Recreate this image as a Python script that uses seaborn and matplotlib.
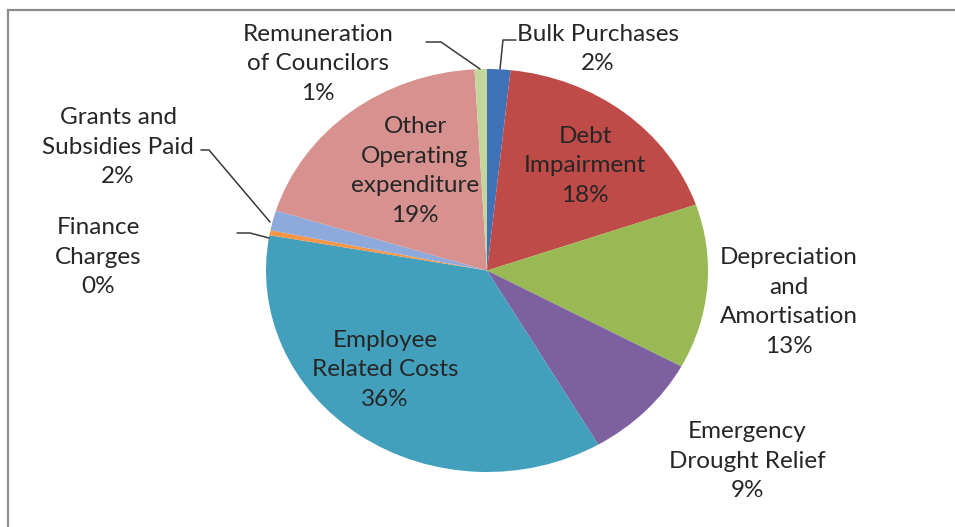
import matplotlib
matplotlib.use("Agg")
import numpy as np
import pandas as pd
import seaborn as sns
import matplotlib.pyplot as plt
from matplotlib.lines import Line2D
from matplotlib.patches import Rectangle

# ---- data ----
categories = ["Bulk Purchases", "Debt Impairment", "Depreciation and Amortisation",
              "Emergency Drought Relief", "Employee Related Costs", "Finance Charges",
              "Grants and Subsidies Paid", "Other Operating expenditure",
              "Remuneration of Councilors"]
values = [1.7, 18.0, 13.2, 8.7, 36.2, 0.4, 1.6, 19.3, 0.9]
label_text = ["Bulk Purchases", "Debt\nImpairment", "Depreciation\nand\nAmortisation",
              "Emergency\nDrought Relief", "Employee\nRelated Costs", "Finance\nCharges",
              "Grants and\nSubsidies Paid", "Other\nOperating\nexpenditure",
              "Remuneration\nof Councilors"]
colors = ["#3F72B8", "#BE4B48", "#98B954", "#7D60A0", "#42A0BD",
          "#F79646", "#8EAADC", "#D79290", "#C3D69B"]

df = pd.DataFrame({"category": categories, "value": values, "label": label_text})
df["pct"] = df["value"] / df["value"].sum() * 100

# ---- layout (pixels in a 955x527 canvas) ----
W, H = 955, 527
label_pos = {
    "Bulk Purchases": (598, 49),
    "Debt Impairment": (585, 166),
    "Depreciation and Amortisation": (789, 302),
    "Emergency Drought Relief": (747, 461),
    "Employee Related Costs": (385, 370),
    "Finance Charges": (98, 257),
    "Grants and Subsidies Paid": (118, 147),
    "Other Operating expenditure": (415, 171),
    "Remuneration of Councilors": (318, 64),
}
leaders = {
    "Remuneration of Councilors": [(426, 42), (441, 42), (480, 69)],
    "Bulk Purchases": [(516, 40), (503, 40), (500, 69)],
    "Grants and Subsidies Paid": [(201, 150), (209, 150), (270, 222)],
    "Finance Charges": [(237, 233), (250, 233), (269, 238)],
}

def fx(x):
    return x / W

def fy(y):
    return 1 - y / H

sns.set_theme(style="white")
plt.rcParams["font.family"] = ["Lato", "DejaVu Sans"]

fig = plt.figure(figsize=(W / 100, H / 100), dpi=100)
fig.patch.set_facecolor("white")

# pie axes: center (487, 270.5), rx 221, ry 201.5
cx, cy, rx, ry = 487, 270.5, 221, 201.5
ax = fig.add_axes([fx(cx - rx), fy(cy + ry), 2 * rx / W, 2 * ry / H])
palette = sns.color_palette(colors)
ax.pie(df["value"], colors=palette, startangle=90, counterclock=False,
       wedgeprops=dict(linewidth=0), radius=1.0)
ax.set_aspect("auto")
ax.set_xlim(-1, 1)
ax.set_ylim(-1, 1)
ax.axis("off")

# outer chart border (extends beyond right/bottom)
fig.patches.append(Rectangle((fx(8), fy(H + 20)), (W + 20 - 8) / W, (H + 20 - 10) / H,
                             transform=fig.transFigure, fill=False,
                             edgecolor="#8C8C8C", linewidth=1.6))

for _, row in df.iterrows():
    x, y = label_pos[row["category"]]
    fig.text(fx(x), fy(y), f"{row['label']}\n{row['pct']:.0f}%",
             ha="center", va="center", fontsize=17.5, color="#262626",
             linespacing=1.52, multialignment="center")

for cat, pts in leaders.items():
    xs = [fx(p[0]) for p in pts]
    ys = [fy(p[1]) for p in pts]
    fig.lines.append(Line2D(xs, ys, transform=fig.transFigure,
                            color="#3A3A3A", linewidth=1.1))

fig.savefig("out.png", dpi=100, facecolor="white")
